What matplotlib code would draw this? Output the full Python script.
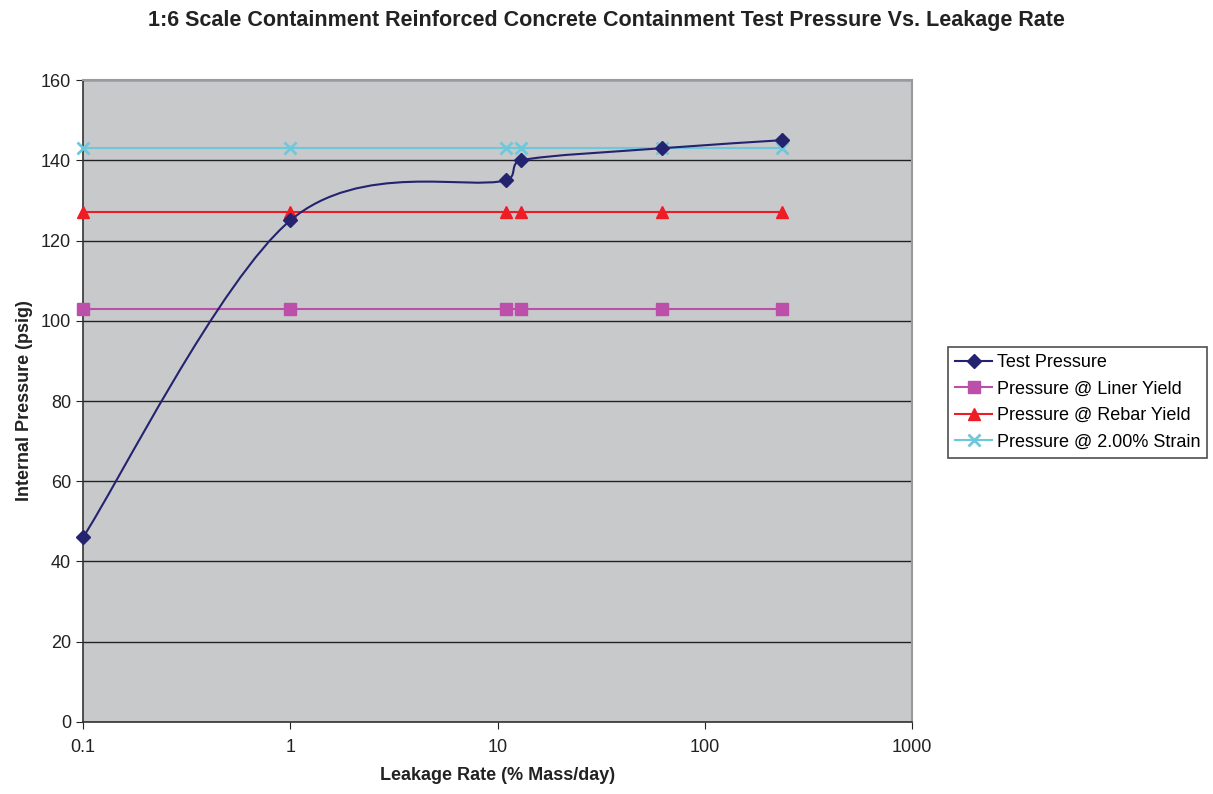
import numpy as np
import matplotlib.pyplot as plt
from matplotlib.path import Path
from matplotlib.patches import PathPatch

plt.rcParams['font.family'] = ['Liberation Sans', 'DejaVu Sans']

leak_rate = [0.1, 1, 11, 13, 62, 235]
test_pressure = [46, 125, 135, 140, 143, 145]
liner_yield = [103, 103, 103, 103, 103, 103]
rebar_yield = [127, 127, 127, 127, 127, 127]
strain_2pct = [143, 143, 143, 143, 143, 143]

NAVY = '#23236f'
PINK = '#bb4fa9'
RED = '#ee1c25'
CYAN = '#6dc8dc'


def smooth_path(ax, xs, ys):
    # Excel-style smoothed line: Bezier segments built in display space,
    # handle length limited to half the segment so short segments don't loop
    pts = ax.transData.transform(np.column_stack([xs, ys]))
    n = len(pts)
    verts = [pts[0]]
    codes = [Path.MOVETO]
    for i in range(n - 1):
        p0 = pts[i - 1] if i > 0 else pts[i]
        p1 = pts[i]
        p2 = pts[i + 1]
        p3 = pts[i + 2] if i + 2 < n else pts[i + 1]
        half = np.hypot(*(p2 - p1)) / 2
        v1 = (p2 - p0) / 6.0
        v2 = (p3 - p1) / 6.0
        for v in (v1, v2):
            L = np.hypot(*v)
            if L > half:
                v *= half / L
        verts += [p1 + v1, p2 - v2, p2]
        codes += [Path.CURVE4] * 3
    verts = ax.transData.inverted().transform(np.array(verts))
    return Path(verts, codes)


fig = plt.figure(figsize=(12.13, 7.94), dpi=100)
ax = fig.add_axes([0.0684, 0.0907, 0.6835, 0.8085])
ax.set_facecolor('#c8c9cb')

ax.set_xscale('log')
ax.set_xlim(0.1, 1000)
ax.set_ylim(0, 160)
ax.set_yticks(range(0, 161, 20))
ax.set_xticks([0.1, 1, 10, 100, 1000])
ax.set_xticklabels(['0.1', '1', '10', '100', '1000'])
ax.minorticks_off()
ax.yaxis.grid(True, color='#222222', linewidth=1)
ax.set_axisbelow(True)

for s in ['top', 'right']:
    ax.spines[s].set_color('#9a9a9e')
    ax.spines[s].set_linewidth(1.5)
for s in ['left', 'bottom']:
    ax.spines[s].set_color('#333333')
    ax.spines[s].set_linewidth(1.2)
ax.tick_params(axis='both', labelsize=13, colors='#222222', length=5, direction='out')
ax.tick_params(axis='x', pad=7)

ax.plot(leak_rate, liner_yield, color=PINK, lw=1.5, marker='s', ms=8, label='Pressure @ Liner Yield', zorder=3, clip_on=False)
ax.plot(leak_rate, rebar_yield, color=RED, lw=1.5, marker='^', ms=9, label='Pressure @ Rebar Yield', zorder=3, clip_on=False)
ax.plot(leak_rate, strain_2pct, color=CYAN, lw=1.5, marker='x', ms=9, mew=2, label='Pressure @ 2.00% Strain', zorder=3, clip_on=False)

ax.add_patch(PathPatch(smooth_path(ax, leak_rate, test_pressure), facecolor='none', edgecolor=NAVY, lw=1.5, zorder=4))
ax.plot(leak_rate, test_pressure, color=NAVY, lw=0, marker='D', ms=7, zorder=5, clip_on=False)
ax.plot([], [], color=NAVY, lw=1.5, marker='D', ms=7, label='Test Pressure')

handles, labels = ax.get_legend_handles_labels()
order = [3, 0, 1, 2]
leg = fig.legend([handles[i] for i in order], [labels[i] for i in order],
                 loc='upper left', bbox_to_anchor=(0.7815, 0.563), fontsize=13,
                 frameon=True, fancybox=False, edgecolor='#222222',
                 handlelength=2.05, handletextpad=0.25, borderpad=0.4, labelspacing=0.52,
                 borderaxespad=0)
leg.get_frame().set_linewidth(1.2)

ax.set_xlabel('Leakage Rate (% Mass/day)', fontsize=13, fontweight='bold', labelpad=8, color='#222222')
ax.set_ylabel('Internal Pressure (psig)', fontsize=13, fontweight='bold', labelpad=6, color='#222222')
fig.suptitle('1:6 Scale Containment Reinforced Concrete Containment Test Pressure Vs. Leakage Rate',
             x=0.5, y=0.988, fontsize=15.5, fontweight='bold', color='#222222')

fig.savefig('out.png', dpi=100)
